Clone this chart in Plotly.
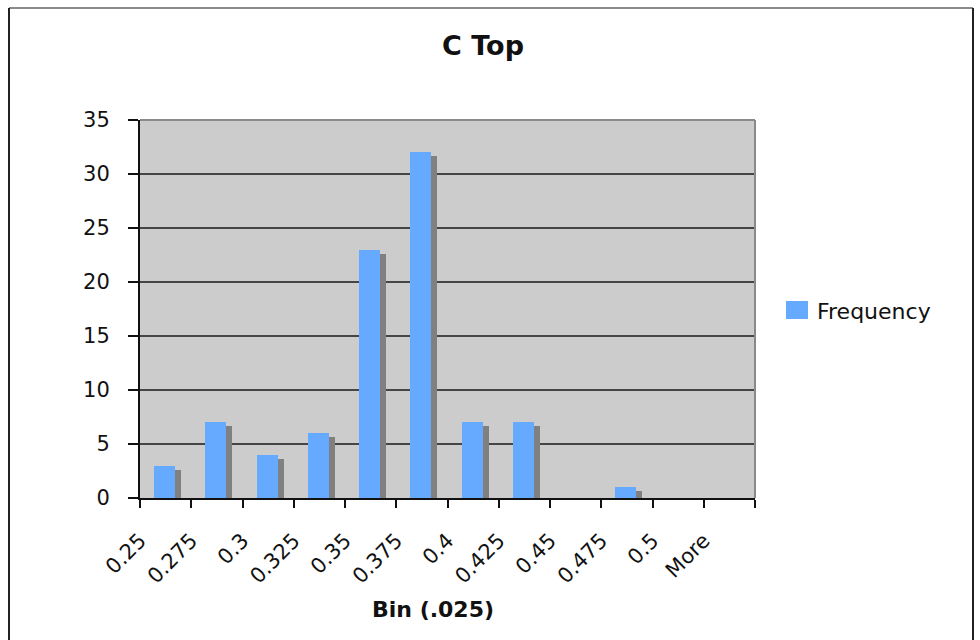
import numpy as np
import plotly.graph_objects as go

# Histogram bins and counts
bins = ["0.25", "0.275", "0.3", "0.325", "0.35", "0.375",
        "0.4", "0.425", "0.45", "0.475", "0.5", "More"]
frequency = [3, 7, 4, 6, 23, 32, 7, 7, 0, 1, 0, 0]
y_ticks = [0, 5, 10, 15, 20, 25, 30, 35]

# Canvas geometry (pixels)
W, H = 980, 640
L, R, T, B = 140, 755, 120, 498
plot_w, plot_h = R - L, B - T
y_max = 35
n = len(bins)

px_x = plot_w / n          # pixels per category
px_y = plot_h / y_max      # pixels per count unit

idx = np.arange(n)
centers = idx + 0.48
bar_w = 21 / px_x
shadow_dx = 6 / px_x
shadow_dy = 4 / px_y

BLUE = "#66AAFF"
SHADOW = "#808080"
FONT = "DejaVu Sans"
INK = "#111111"


def px(xp):
    return (xp - L) / plot_w


def py(yp):
    return (B - yp) / plot_h


fig = go.Figure()

# drop shadow behind each bar
fig.add_trace(go.Bar(
    x=centers + shadow_dx, y=frequency, base=-shadow_dy,
    width=bar_w, marker=dict(color=SHADOW, line=dict(width=0)),
    showlegend=False, hoverinfo="skip",
))

fig.add_trace(go.Bar(
    x=centers, y=frequency, width=bar_w, name="Frequency",
    marker=dict(color=BLUE, line=dict(width=0)),
    showlegend=False,
))

shapes = [
    # plot area top and right edges
    dict(type="line", xref="paper", yref="paper", x0=0, x1=1, y0=1, y1=1,
         line=dict(color="#8a8a8a", width=2)),
    dict(type="line", xref="paper", yref="paper", x0=1, x1=1, y0=0, y1=1,
         line=dict(color="#8a8a8a", width=2)),
    # chart frame
    dict(type="line", xref="paper", yref="paper", x0=px(9), x1=px(973),
         y0=py(8), y1=py(8), line=dict(color="#8a8a8a", width=2)),
    dict(type="line", xref="paper", yref="paper", x0=px(9), x1=px(9),
         y0=py(8), y1=py(660), line=dict(color="#222222", width=2)),
    dict(type="line", xref="paper", yref="paper", x0=px(973), x1=px(973),
         y0=py(8), y1=py(660), line=dict(color="#222222", width=2)),
    # legend swatch
    dict(type="rect", xref="paper", yref="paper", x0=px(786), x1=px(808),
         y0=py(319), y1=py(301), fillcolor=BLUE, line=dict(width=0)),
]

annotations = [
    dict(text="Frequency", xref="paper", yref="paper", x=px(815), y=py(311),
         xanchor="left", yanchor="middle", showarrow=False,
         font=dict(family=FONT, size=22, color=INK)),
    # x-axis title
    dict(text="<b>Bin (.025)</b>", xref="paper", yref="paper", x=px(433), y=py(609),
         xanchor="center", yanchor="middle", showarrow=False,
         font=dict(family=FONT, size=22, color=INK)),
]

fig.update_layout(
    width=W, height=H,
    margin=dict(l=L, r=W - R, t=T, b=H - B, autoexpand=False),
    paper_bgcolor="white",
    plot_bgcolor="#CCCCCC",
    barmode="overlay",
    bargap=0,
    font=dict(family=FONT, size=21, color=INK),
    title=dict(text="<b>C Top</b>", x=483 / W, xref="container", xanchor="center",
               y=1 - 46 / H, yref="container", yanchor="middle",
               font=dict(family=FONT, size=27, color=INK)),
    shapes=shapes,
    annotations=annotations,
    xaxis=dict(
        range=[0, n], tickmode="array",
        tickvals=list(range(n + 1)), ticktext=bins + [""],
        tickangle=-45, ticks="outside", ticklen=8, tickwidth=1.5, tickcolor=INK,
        ticklabelstandoff=12,
        showgrid=False, zeroline=False,
        showline=True, linecolor=INK, linewidth=2,
        tickfont=dict(family=FONT, size=21, color=INK),
        automargin=False, fixedrange=True,
    ),
    yaxis=dict(
        range=[0, y_max], tickmode="array", tickvals=y_ticks,
        ticks="outside", ticklen=10, tickwidth=1.5, tickcolor=INK,
        showgrid=True, gridcolor="#454545", gridwidth=1.5,
        zeroline=False,
        showline=True, linecolor=INK, linewidth=2,
        tickfont=dict(family=FONT, size=21, color=INK),
        ticklabelstandoff=14,
        automargin=False, fixedrange=True,
    ),
)

fig.write_html("out.html")
